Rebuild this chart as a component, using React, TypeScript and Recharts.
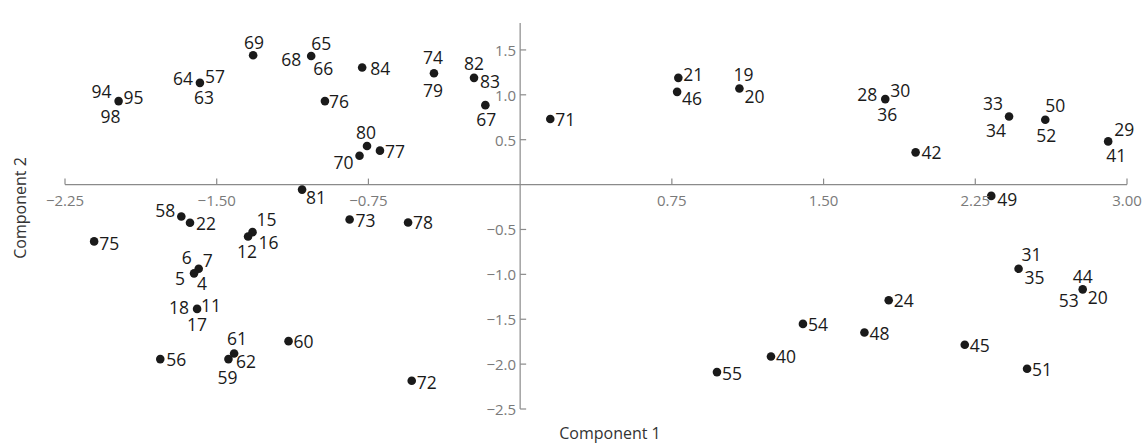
import { ScatterChart, Scatter, XAxis, YAxis, ReferenceLine } from "recharts";

const X_DOMAIN = [-2.25, 3];
const Y_DOMAIN = [-2.5, 1.8];
const X_TICKS = [-2.25, -1.5, -0.75, 0.75, 1.5, 2.25, 3];
const Y_TICKS = [-2.5, -2, -1.5, -1, -0.5, 0.5, 1, 1.5];

// component scores, one entry per dot
const COMP1 = [
  -1.985, -1.583, -1.32, -1.033, -0.781, -0.965, -0.757, -0.794, -0.693, -1.078,
  -0.426, -0.228, -0.172, 0.149, 0.782, 0.776, 1.084, 1.805, 1.955, 2.417,
  2.596, 2.907, 2.329, -1.675, -1.632, -2.106, -1.323, -1.345, -1.589, -1.612,
  -1.597, -1.145, -1.414, -1.442, -1.779, -0.536, -0.843, -0.554, 2.464, 2.781,
  1.822, 1.398, 1.702, 2.198, 1.24, 0.973, 2.506,
];
const COMP2 = [
  0.93, 1.133, 1.441, 1.433, 1.304, 0.93, 0.43, 0.322, 0.378, -0.056,
  1.241, 1.189, 0.885, 0.73, 1.189, 1.033, 1.07, 0.952, 0.359, 0.759,
  0.722, 0.481, -0.126, -0.356, -0.426, -0.633, -0.53, -0.578, -0.937, -0.989,
  -1.385, -1.744, -1.881, -1.944, -1.944, -2.185, -0.389, -0.422, -0.937, -1.167,
  -1.289, -1.552, -1.648, -1.785, -1.915, -2.089, -2.052,
];
// sample numbers sitting on each dot
const SAMPLE_TAGS = [
  ["94", "95", "98"], ["64", "57", "63"], ["69"], ["68", "65", "66"], ["84"], ["76"], ["80"], ["70"], ["77"], ["81"],
  ["74", "79"], ["82", "83"], ["67"], ["71"], ["21"], ["46"], ["19", "20"], ["28", "30", "36"], ["42"], ["33", "34"],
  ["50", "52"], ["29", "41"], ["49"], ["58"], ["22"], ["75"], ["15", "16"], ["12"], ["6", "7"], ["5", "4"],
  ["18", "11", "17"], ["60"], ["61", "62"], ["59"], ["56"], ["72"], ["73"], ["78"], ["31", "35"], ["44", "53", "20"],
  ["24"], ["54"], ["48"], ["45"], ["40"], ["55"], ["51"],
];

// where each tag sits around its dot: [dx, dy, anchor]
type Spot = [number, number, "start" | "middle" | "end"];
const R: Spot = [5, 0, "start"];
const TAG_SPOTS: Spot[][] = [
  [[-7, -10, "end"], [5, -4, "start"], [-8, 15, "middle"]],
  [[-7, -5, "end"], [5, -7, "start"], [4, 14, "middle"]],
  [[1, -13, "middle"]],
  [[-10, 3, "end"], [0, -13, "start"], [2, 12, "start"]],
  [[8, 0, "start"]], [[4, 0, "start"]], [[-1, -14, "middle"]], [[-6, 6, "end"]], [R], [[4, 7, "start"]],
  [[-1, -16, "middle"], [-1, 17, "middle"]],
  [[0, -15, "middle"], [6, 3, "start"]],
  [[1, 14, "middle"]], [R], [[5, -4, "start"]], [[5, 6, "start"]],
  [[4, -15, "middle"], [5, 7, "start"]],
  [[-8, -5, "end"], [5, -9, "start"], [2, 15, "middle"]],
  [[6, 0, "start"]],
  [[-6, -13, "end"], [-3, 14, "end"]],
  [[0, -15, "start"], [1, 15, "middle"]],
  [[6, -12, "start"], [8, 14, "middle"]],
  [[6, 3, "start"]],
  [[-6, -7, "end"]], [[6, 0, "start"]], [[5, 2, "start"]],
  [[4, -13, "start"], [6, 10, "start"]],
  [[-1, 15, "middle"]],
  [[-7, -12, "end"], [4, -9, "start"]],
  [[-9, 5, "end"], [3, 10, "start"]],
  [[-8, -2, "end"], [4, -4, "start"], [0, 15, "middle"]],
  [R], [[3, -15, "middle"], [2, 8, "start"]], [[-1, 18, "middle"]], [[6, 0, "start"]], [[5, 1, "start"]], [[6, 0, "start"]], [R],
  [[3, -15, "start"], [6, 8, "start"]],
  [[0, -13, "middle"], [-4, 11, "end"], [5, 8, "start"]],
  [R], [R], [R], [R], [R], [[5, 1, "start"]], [R],
];

const points = COMP1.map((x, i) => ({ x, y: COMP2[i], tags: SAMPLE_TAGS[i], spots: TAG_SPOTS[i] }));

const W = 1143;
const H = 444;
const MARGIN = { top: 23, right: 16, bottom: 34, left: 64 };
const PLOT_L = MARGIN.left + 1;
const PLOT_R = W - MARGIN.right;
const PLOT_T = MARGIN.top;
const PLOT_B = H - MARGIN.bottom - 1;
// axes cross at the origin
const ZERO_X = PLOT_L + ((0 - X_DOMAIN[0]) / (X_DOMAIN[1] - X_DOMAIN[0])) * (PLOT_R - PLOT_L);
const ZERO_Y = PLOT_T + ((Y_DOMAIN[1] - 0) / (Y_DOMAIN[1] - Y_DOMAIN[0])) * (PLOT_B - PLOT_T);

const FONT = "'Open Sans', 'Noto Sans', sans-serif";
const AXIS = "#8a8a8a";
const TICK_TXT = "#7a7a7a";
const INK = "#1a1a1a";

const fmt = (v: number, d: number) => v.toFixed(d).replace("-", "\u2212");

const renderXTick = (props: any) => {
  const { x, payload } = props;
  return (
    <g>
      <line x1={x} x2={x} y1={ZERO_Y} y2={ZERO_Y - 6} stroke={AXIS} strokeWidth={1.2} />
      <text x={x} y={ZERO_Y + 15} textAnchor="middle" dominantBaseline="central"
        fontFamily={FONT} fontSize={15} fill={TICK_TXT}>
        {fmt(payload.value, 2)}
      </text>
    </g>
  );
};

const renderYTick = (props: any) => {
  const { y, payload } = props;
  return (
    <g>
      <line x1={ZERO_X} x2={ZERO_X + 6} y1={y} y2={y} stroke={AXIS} strokeWidth={1.2} />
      <text x={ZERO_X - 4} y={y} textAnchor="end" dominantBaseline="central"
        fontFamily={FONT} fontSize={15} fill={TICK_TXT}>
        {fmt(payload.value, 1)}
      </text>
    </g>
  );
};

const renderDot = (props: any) => {
  const { cx, cy, payload } = props;
  return (
    <g>
      <circle cx={cx} cy={cy} r={4.3} fill={INK} />
      {payload.tags.map((t: string, k: number) => {
        const [dx, dy, anchor] = payload.spots[k];
        return (
          <text key={k} x={cx + dx} y={cy + dy} textAnchor={anchor} dominantBaseline="central"
            fontFamily={FONT} fontSize={17.5} fill={INK}>
            {t}
          </text>
        );
      })}
    </g>
  );
};

export default function App() {
  return (
    <div style={{ position: "absolute", left: 0, top: 0, width: W, height: H, background: "#fff" }}>
      <ScatterChart width={W} height={H} margin={MARGIN}>
        <XAxis type="number" dataKey="x" domain={X_DOMAIN} ticks={X_TICKS} height={1}
          axisLine={false} tickLine={false} tick={renderXTick} interval={0} />
        <YAxis type="number" dataKey="y" domain={Y_DOMAIN} ticks={Y_TICKS} width={1}
          axisLine={false} tickLine={false} tick={renderYTick} interval={0} />
        <ReferenceLine x={0} stroke={AXIS} strokeWidth={1.2} />
        <ReferenceLine y={0} stroke={AXIS} strokeWidth={1.2} />
        <Scatter data={points} shape={renderDot} isAnimationActive={false} />
        <text x={610} y={433} textAnchor="middle" dominantBaseline="central"
          fontFamily={FONT} fontSize={16} fill="#333">
          Component 1
        </text>
        <text x={20} y={208} textAnchor="middle" dominantBaseline="central"
          transform="rotate(-90 20 208)" fontFamily={FONT} fontSize={16} fill="#333">
          Component 2
        </text>
      </ScatterChart>
    </div>
  );
}
